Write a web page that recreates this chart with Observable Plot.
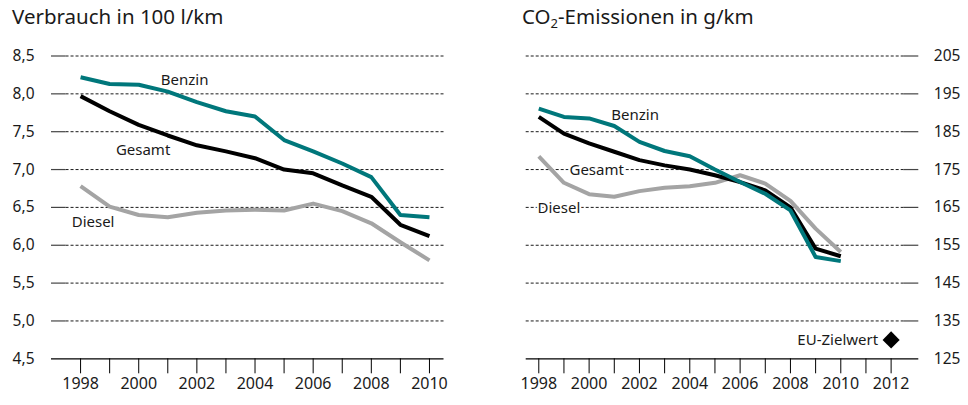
<!DOCTYPE html>
<html><head><meta charset="utf-8">
<script src="https://cdn.jsdelivr.net/npm/d3@7"></script>
<script src="https://cdn.jsdelivr.net/npm/@observablehq/plot@0.6"></script>
<style>
body{margin:0;background:#fff;font-family:"Noto Sans",sans-serif;}
#wrap{position:relative;width:968px;height:405px;overflow:hidden;background:#fff}
.title{position:absolute;top:3px;font-size:20.5px;line-height:26px;color:#1a1a1a;white-space:nowrap}
.title sub{font-size:13px;vertical-align:-4px;line-height:0}
#left{position:absolute;left:0;top:40px}
#right{position:absolute;left:480px;top:40px}
</style></head>
<body><div id="wrap">
<div class="title" style="left:12px">Verbrauch in 100 l/km</div>
<div class="title" style="left:522px">CO<sub>2</sub>-Emissionen in g/km</div>
<div id="left"></div><div id="right"></div>
</div>
<script>
// ---- data ----
const years = [1998,1999,2000,2001,2002,2003,2004,2005,2006,2007,2008,2009,2010];
const yearTicksLeft = [1998,1999,2000,2001,2002,2003,2004,2005,2006,2007,2008,2009,2010];
const yearTicksRight = [1998,1999,2000,2001,2002,2003,2004,2005,2006,2007,2008,2009,2010,2011,2012];
const consTicks = [4.5,5.0,5.5,6.0,6.5,7.0,7.5,8.0,8.5];
const co2Ticks = [125,135,145,155,165,175,185,195,205];

const consBenzin = [8.22,8.13,8.12,8.03,7.89,7.77,7.70,7.39,7.24,7.08,6.90,6.40,6.37];
const consGesamt = [7.97,7.77,7.59,7.45,7.32,7.24,7.15,7.00,6.95,6.79,6.64,6.27,6.12];
const consDiesel = [6.78,6.51,6.40,6.37,6.43,6.46,6.47,6.46,6.55,6.45,6.29,6.04,5.80];

const co2Benzin = [191.1,188.9,188.5,186.5,182.3,179.9,178.5,175.0,171.7,168.6,164.2,151.9,150.8];
const co2Gesamt = [188.9,184.5,181.9,179.7,177.5,176.1,175.0,173.5,171.7,169.5,165.0,154.1,152.1];
const co2Diesel = [178.5,171.5,168.5,167.8,169.3,170.2,170.6,171.5,173.5,171.3,166.7,159.4,153.2];

const euTargetYear = [2012];
const euTargetValue = [130];
const euLabel = ["EU-Zielwert"];

const seriesNames = ["Benzin","Gesamt","Diesel"];
const leftLabelYear = [2001.58, 2000.15, 1998.43];
const leftLabelValue = [8.18, 7.25, 6.31];
const rightLabelYear = [2001.83, 2000.3, 1998.8];
const rightLabelValue = [189.4, 174.8, 164.7];

// ---- styles ----
const colors = {Benzin:"#00777b", Gesamt:"#000000", Diesel:"#a4a4a4"};
const lineW = 4;
const fmt = d => d.toFixed(1).replace(".", ",");
const yrFmt = d => (d % 2 === 0 ? String(d) : "");

function toRows(vals){ return years.map((y,i)=>({year:y, value:vals[i]})); }
function labelRows(xs, ys){ return seriesNames.map((n,i)=>({name:n, year:xs[i], value:ys[i]})); }

const baseStyle = {fontFamily:"'Noto Sans', sans-serif", fontSize:"15px", color:"#1a1a1a", background:"transparent", overflow:"visible"};

function lines(b,g,d){
  return [
    Plot.line(toRows(d), {x:"year", y:"value", stroke:colors.Diesel, strokeWidth:lineW, strokeLinejoin:"round", strokeLinecap:"butt"}),
    Plot.line(toRows(g), {x:"year", y:"value", stroke:colors.Gesamt, strokeWidth:lineW, strokeLinejoin:"round", strokeLinecap:"butt"}),
    Plot.line(toRows(b), {x:"year", y:"value", stroke:colors.Benzin, strokeWidth:lineW, strokeLinejoin:"round", strokeLinecap:"butt"})
  ];
}

const left = Plot.plot({
  width:480, height:365,
  marginLeft:51, marginRight:36.5, marginTop:15.5, marginBottom:46.7,
  x:{domain:[1997,2010.5]},
  y:{domain:[4.5,8.5]},
  style:baseStyle,
  marks:[
    Plot.ruleY(consTicks.slice(1), {x1:1997.5, x2:2010.5, stroke:"#1a1a1a", strokeWidth:1, strokeDasharray:"3,2"}),
    Plot.ruleY(consTicks.slice(1), {x1:1997, x2:1997.5, stroke:"#444", strokeWidth:1.2}),
    Plot.ruleY([consTicks[0]], {stroke:"#000", strokeWidth:1.2}),
    Plot.axisY({ticks:consTicks, tickSize:0, tickPadding:17, tickFormat:fmt, label:null, fontSize:15.5}),
    Plot.axisX({ticks:yearTicksLeft, tickSize:15, tickPadding:4, tickFormat:yrFmt, label:null, stroke:"#000", fontSize:16}),
    ...lines(consBenzin, consGesamt, consDiesel),
    Plot.text(labelRows(leftLabelYear, leftLabelValue), {x:"year", y:"value", text:"name", fill:"#1a1a1a", stroke:"white", strokeWidth:4, fontSize:15})
  ]
});
document.getElementById("left").append(left);

const right = Plot.plot({
  width:488, height:365,
  marginLeft:45.7, marginRight:49.7, marginTop:15.5, marginBottom:46.7,
  x:{domain:[1997.5,2013.1]},
  y:{domain:[125,205]},
  style:baseStyle,
  marks:[
    Plot.ruleY(co2Ticks.slice(1), {x1:1997.5, x2:2012.5, stroke:"#1a1a1a", strokeWidth:1, strokeDasharray:"3,2"}),
    Plot.ruleY(co2Ticks.slice(1), {x1:2012.5, x2:2013.1, stroke:"#444", strokeWidth:1.2}),
    Plot.ruleY([co2Ticks[0]], {stroke:"#000", strokeWidth:1.2}),
    Plot.axisY({anchor:"right", ticks:co2Ticks, tickSize:0, tickPadding:15, label:null, fontSize:15.5}),
    Plot.axisX({ticks:yearTicksRight, tickSize:15, tickPadding:4, tickFormat:yrFmt, label:null, stroke:"#000", fontSize:16}),
    Plot.text(labelRows(rightLabelYear, rightLabelValue), {x:"year", y:"value", text:"name", fill:"#1a1a1a", stroke:"white", strokeWidth:4, fontSize:15}),
    ...lines(co2Benzin, co2Gesamt, co2Diesel),
    Plot.dot(euTargetYear.map((y,i)=>({year:y, value:euTargetValue[i]})), {x:"year", y:"value", symbol:"diamond2", r:7.7, fill:"#000", stroke:null}),
    Plot.text(euTargetYear.map((y,i)=>({year:y, value:euTargetValue[i], t:euLabel[i]})), {x:"year", y:"value", text:"t", textAnchor:"end", dx:-13, fill:"#1a1a1a", fontSize:15})
  ]
});
document.getElementById("right").append(right);
</script>
</body></html>
